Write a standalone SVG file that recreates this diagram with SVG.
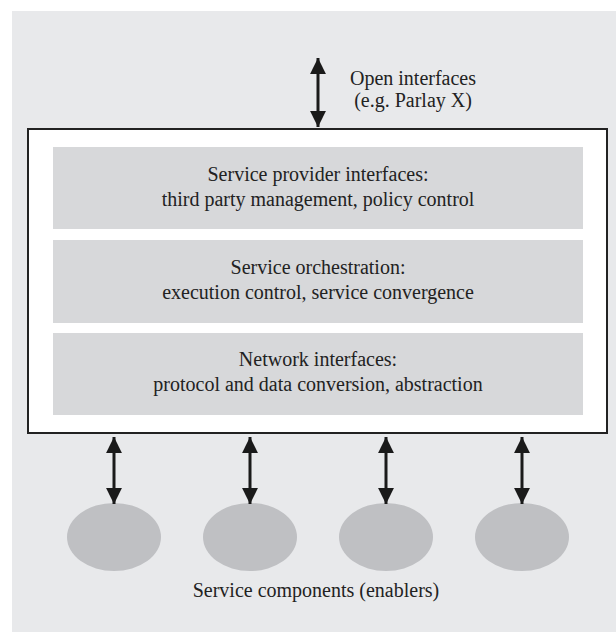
<svg xmlns="http://www.w3.org/2000/svg" width="616" height="633" viewBox="0 0 616 633">
<defs>
<style>
text{font-family:'Liberation Serif','DejaVu Serif',serif;font-size:20px;fill:#222;text-anchor:middle}
.band{fill:#d7d8da}
.comp{fill:#bfc0c3}
.conn{stroke:#1a1a1a;stroke-width:3;fill:none;marker-start:url(#ah);marker-end:url(#ah)}
</style>
<marker id="ah" viewBox="0 0 10 10" refX="10" refY="5" markerWidth="5.3" markerHeight="5.3" markerUnits="strokeWidth" orient="auto-start-reverse">
<path d="M0,0 L10,5 L0,10 z" fill="#1a1a1a"/>
</marker>
</defs>
<rect x="12" y="11" width="604" height="621" fill="#e8e9eb"/>
<g id="platform">
<rect x="28" y="129" width="579" height="304" fill="#fff" stroke="#222" stroke-width="2"/>
</g>
<g id="layer-spi">
<rect class="band" x="53" y="147" width="530" height="82"/>
<text x="318" y="181">Service provider interfaces:</text>
<text x="318" y="206">third party management, policy control</text>
</g>
<g id="layer-orch">
<rect class="band" x="53" y="240" width="530" height="83"/>
<text x="318" y="274">Service orchestration:</text>
<text x="318" y="299">execution control, service convergence</text>
</g>
<g id="layer-net">
<rect class="band" x="53" y="333" width="530" height="82"/>
<text x="318" y="366">Network interfaces:</text>
<text x="318" y="391">protocol and data conversion, abstraction</text>
</g>
<g id="comp1"><ellipse class="comp" cx="114" cy="537" rx="47" ry="34"/></g>
<g id="comp2"><ellipse class="comp" cx="250" cy="537" rx="47" ry="34"/></g>
<g id="comp3"><ellipse class="comp" cx="386" cy="537" rx="47" ry="34"/></g>
<g id="comp4"><ellipse class="comp" cx="522" cy="537" rx="47" ry="34"/></g>
<g id="connectors">
<line class="conn" x1="318" y1="58" x2="318" y2="127"/>
<line class="conn" x1="114" y1="437" x2="114" y2="504"/>
<line class="conn" x1="250" y1="437" x2="250" y2="504"/>
<line class="conn" x1="386" y1="437" x2="386" y2="504"/>
<line class="conn" x1="522" y1="437" x2="522" y2="504"/>
</g>
<g id="labels">
<text x="413" y="85">Open interfaces</text>
<text x="413" y="107">(e.g. Parlay X)</text>
<text x="316" y="597">Service components (enablers)</text>
</g>
</svg>
